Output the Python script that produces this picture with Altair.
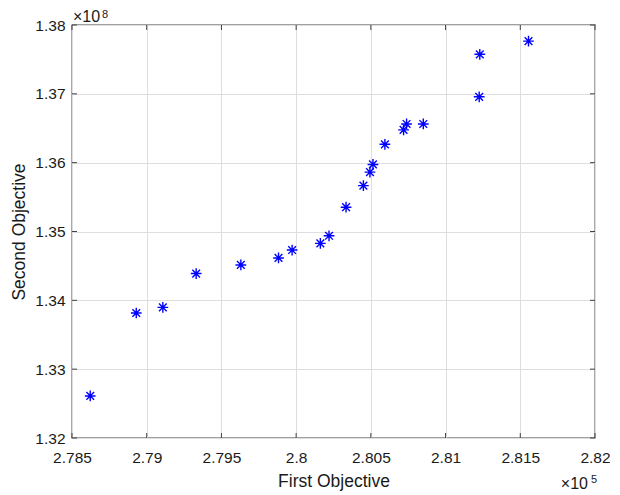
import altair as alt
import pandas as pd

# Data (raw values)
first_obj = [278622, 278930, 279108, 279331, 279630, 279882, 279973, 280162,
             280220, 280334, 280450, 280494, 280514, 280594, 280719, 280739,
             280851, 281225, 281229, 281555]
second_obj = [1.32611e8, 1.33816e8, 1.33897e8, 1.34389e8, 1.34514e8, 1.34616e8,
              1.34731e8, 1.34828e8, 1.34938e8, 1.35353e8, 1.35666e8, 1.35863e8,
              1.35974e8, 1.36267e8, 1.36476e8, 1.36562e8, 1.36562e8, 1.36957e8,
              1.37574e8, 1.37766e8]

x_ticks = [278500, 279000, 279500, 280000, 280500, 281000, 281500, 282000]
y_ticks = [1.32e8, 1.33e8, 1.34e8, 1.35e8, 1.36e8, 1.37e8, 1.38e8]
x_domain = [278500, 282000]
y_domain = [1.32e8, 1.38e8]

W, H = 523, 413
FONT = "Liberation Sans"
AX = "#404040"
TXT = "#1a1a1a"
TL = 5

df = pd.DataFrame({"first": first_obj, "second": second_obj})
xt = pd.DataFrame({"first": x_ticks})
yt = pd.DataFrame({"second": y_ticks})

xs = alt.Scale(domain=x_domain, nice=False, zero=False)
ys = alt.Scale(domain=y_domain, nice=False, zero=False)

x_axis = alt.Axis(values=x_ticks, grid=True, gridColor="#dedede",
                  gridWidth=1, ticks=False, domain=False,
                  labelExpr="format(datum.value/100000, '~g')",
                  labelFont=FONT, labelFontSize=15.5,
                  labelColor=TXT, labelPadding=12, labelFlush=False,
                  titleFont=FONT, titleFontSize=17.5,
                  titleFontWeight="normal", titleColor=TXT,
                  titleX=W / 2, titleY=48, titleBaseline="alphabetic")
y_axis = alt.Axis(values=y_ticks, grid=True, gridColor="#dedede",
                  gridWidth=1, ticks=False, domain=False,
                  labelExpr="format(datum.value/100000000, '~g')",
                  labelFont=FONT, labelFontSize=15.5,
                  labelColor=TXT, labelPadding=7, labelFlush=False,
                  titleFont=FONT, titleFontSize=17.5,
                  titleFontWeight="normal", titleColor=TXT,
                  titleX=-48, titleY=H / 2, titleAngle=270,
                  titleBaseline="alphabetic")

X = alt.X("first:Q", scale=xs, title="First Objective", axis=x_axis)
Y = alt.Y("second:Q", scale=ys, title="Second Objective", axis=y_axis)

ASTERISK = "M-1,0L1,0M0,-1L0,1M-0.72,-0.72L0.72,0.72M-0.72,0.72L0.72,-0.72"

points = alt.Chart(df).mark_point(
    shape=ASTERISK, filled=False, size=115, color="#0000ff",
    strokeWidth=1.4, opacity=1
).encode(x=X, y=Y)

tick_style = dict(color=AX, strokeWidth=1)
xb = alt.Chart(xt).mark_rule(**tick_style).encode(
    x=X, y=alt.value(H), y2=alt.value(H - TL))
xtop = alt.Chart(xt).mark_rule(**tick_style).encode(
    x=X, y=alt.value(0), y2=alt.value(TL))
yl = alt.Chart(yt).mark_rule(**tick_style).encode(
    y=Y, x=alt.value(0), x2=alt.value(TL))
yr = alt.Chart(yt).mark_rule(**tick_style).encode(
    y=Y, x=alt.value(W), x2=alt.value(W - TL))

# exponent annotations
exp_y = pd.DataFrame({"first": [x_domain[0]], "base": ["×10"], "sup": ["8"]})
exp_x = pd.DataFrame({"first": [x_domain[1]], "base": ["×10"], "sup": ["5"]})

ey_base = alt.Chart(exp_y).mark_text(
    font=FONT, fontSize=16, align="left", baseline="alphabetic",
    color=TXT, dx=1).encode(x=X, y=alt.value(-3), text="base:N")
ey_sup = alt.Chart(exp_y).mark_text(
    font=FONT, fontSize=11, align="left", baseline="alphabetic",
    color=TXT, dx=30).encode(x=X, y=alt.value(-7), text="sup:N")
ex_base = alt.Chart(exp_x).mark_text(
    font=FONT, fontSize=16, align="right", baseline="alphabetic",
    color=TXT, dx=-7).encode(x=X, y=alt.value(H + 51), text="base:N")
ex_sup = alt.Chart(exp_x).mark_text(
    font=FONT, fontSize=11, align="right", baseline="alphabetic",
    color=TXT, dx=2).encode(x=X, y=alt.value(H + 45), text="sup:N")

chart = alt.layer(points, xb, xtop, yl, yr, ey_base, ey_sup, ex_base, ex_sup).properties(
    width=W, height=H,
    autosize=alt.AutoSizeParams(type="none"),
    padding={"left": 64, "top": 17, "right": 15, "bottom": 55},
    background="white",
).configure_view(stroke=AX, strokeWidth=1.3)

chart.save("out.html", embed_options={"renderer": "svg", "actions": False})
